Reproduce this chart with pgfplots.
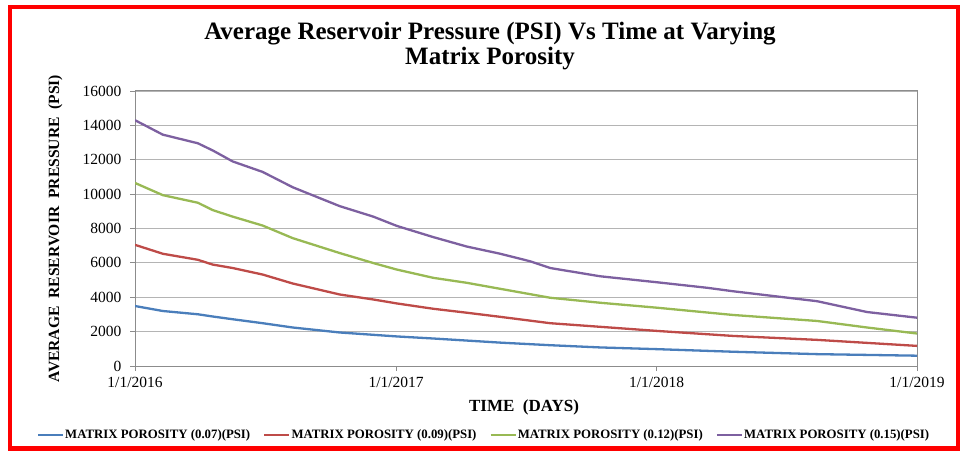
\documentclass[border=0pt]{standalone}
\usepackage{fontspec}
\setmainfont{Liberation Serif}
\usepackage{pgfplots}
\pgfplotsset{compat=1.18}

\definecolor{serBlue}{HTML}{4A7EBB}
\definecolor{serRed}{HTML}{BE4B48}
\definecolor{serGreen}{HTML}{98B954}
\definecolor{serPurple}{HTML}{7D60A0}
\definecolor{axgray}{HTML}{8C8C8C}
\definecolor{gridgray}{HTML}{B4B4B4}

\begin{document}
\begin{tikzpicture}
\useasboundingbox (0pt,0pt) rectangle (960pt,450pt);
\draw[red, line width=4.5pt] (9.8pt,1.7pt) rectangle (958pt,442.8pt);

\begin{axis}[
    at={(135pt,84pt)}, anchor=south west,
    scale only axis, width=782pt, height=275pt,
    xmin=0, xmax=1096, ymin=0, ymax=16000,
    xtick={0,366,731,1096},
    xticklabels={1/1/2016,1/1/2017,1/1/2018,1/1/2019},
    ytick={0,2000,...,16000},
    scaled y ticks=false,
    /pgf/number format/.cd, fixed, 1000 sep={}, assume math mode=true, /pgfplots/.cd,
    xtick pos=lower, ytick pos=left,
    tick align=outside, major tick length=5pt,
    tick style={color=axgray, line width=0.8pt},
    ymajorgrids, grid style={color=gridgray, line width=0.8pt},
    axis line style={color=axgray, line width=1pt},
    tick label style={font=\fontsize{15.5}{15.5}\selectfont},
    yticklabel style={xshift=-5pt},
    xticklabel style={yshift=-3pt},
    legend columns=4,
    legend style={at={(0.4457,-0.251)}, anchor=center, draw=none, fill=none,
        font=\bfseries\fontsize{12.8}{13}\selectfont,
        nodes={inner sep=1pt},
        /tikz/every even column/.append style={column sep=12pt}},
    legend image code/.code={\draw[#1] (0pt,0pt) -- (25pt,0pt);},
    every axis plot/.append style={line width=2.3pt, line join=round},
]
% MATRIX POROSITY 0.07
\addplot[serBlue] coordinates {
    (0,3490) (39,3200) (88,3010) (109,2880) (137,2720) (179,2490) (221,2240)
    (287,1950) (367,1720) (418,1600) (512,1360) (582,1210) (652,1080)
    (732,980) (838,830) (956,690) (1096,600)
};
% MATRIX POROSITY 0.09
\addplot[serRed] coordinates {
    (0,7050) (39,6530) (88,6180) (109,5900) (137,5700) (179,5320) (221,4800)
    (287,4160) (334,3870) (367,3640) (418,3330) (465,3100) (512,2860)
    (582,2490) (652,2280) (732,2040) (838,1750) (956,1520) (1096,1170)
};
% MATRIX POROSITY 0.12
\addplot[serGreen] coordinates {
    (0,10650) (39,9940) (88,9500) (109,9070) (137,8690) (179,8170) (221,7440)
    (287,6570) (334,5990) (367,5610) (418,5130) (465,4840) (512,4490)
    (582,3970) (652,3680) (732,3390) (838,2970) (956,2620) (1026,2240) (1096,1890)
};
% MATRIX POROSITY 0.15
\addplot[serPurple] coordinates {
    (0,14300) (39,13460) (88,12960) (109,12540) (137,11900) (179,11290)
    (221,10400) (287,9300) (334,8690) (367,8150) (418,7500) (465,6950)
    (512,6530) (554,6090) (582,5700) (652,5220) (732,4870) (802,4550)
    (838,4350) (956,3770) (1026,3140) (1096,2810)
};
\legend{MATRIX POROSITY (0.07)(PSI), MATRIX POROSITY (0.09)(PSI),
        MATRIX POROSITY (0.12)(PSI), MATRIX POROSITY (0.15)(PSI)}
\end{axis}

\node[anchor=base, font=\bfseries\fontsize{25}{27}\selectfont] at (490pt,410.5pt)
    {Average Reservoir Pressure (PSI) Vs Time at Varying};
\node[anchor=base, font=\bfseries\fontsize{25}{27}\selectfont] at (490pt,385pt)
    {Matrix Porosity};
\node[anchor=base, rotate=90, font=\bfseries\fontsize{15.6}{16}\selectfont] at (59pt,221.5pt)
    {AVERAGE\ \ RESERVOIR\ \ PRESSURE\ \ (PSI)};
\node[anchor=base, font=\bfseries\fontsize{17}{17}\selectfont] at (524pt,39pt)
    {TIME\ \ (DAYS)};
\end{tikzpicture}
\end{document}
